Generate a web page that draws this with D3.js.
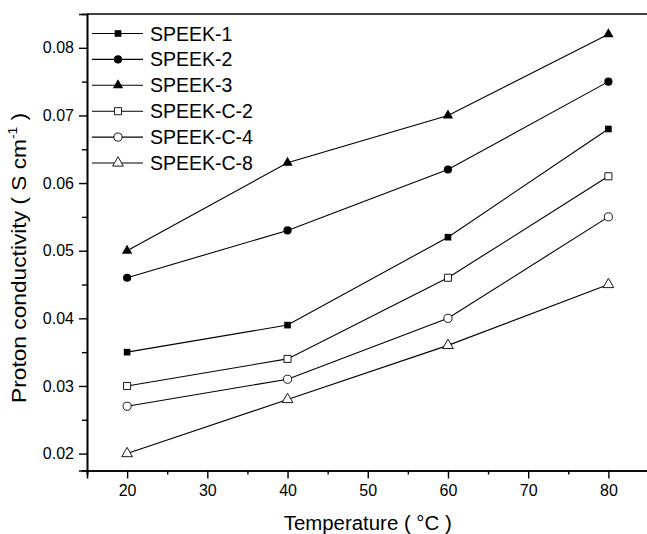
<!DOCTYPE html>
<html>
<head>
<meta charset="utf-8">
<script src="https://cdn.jsdelivr.net/npm/d3@7"></script>
<style>
  html, body { margin: 0; padding: 0; background: #fff; }
  svg { display: block; }
  text { font-family: "Liberation Sans", Arial, sans-serif; fill: #000; }
</style>
</head>
<body>
<svg id="chart" width="647" height="534"></svg>
<script>
// ---- data ----
const temperatures = [20, 40, 60, 80];
const seriesNames = ["SPEEK-1", "SPEEK-2", "SPEEK-3", "SPEEK-C-2", "SPEEK-C-4", "SPEEK-C-8"];
const speek1  = [0.035, 0.039, 0.052, 0.068];
const speek2  = [0.046, 0.053, 0.062, 0.075];
const speek3  = [0.050, 0.063, 0.070, 0.082];
const speekC2 = [0.030, 0.034, 0.046, 0.061];
const speekC4 = [0.027, 0.031, 0.040, 0.055];
const speekC8 = [0.020, 0.028, 0.036, 0.045];
const xTicks = [20, 30, 40, 50, 60, 70, 80];
const yTicks = [0.02, 0.03, 0.04, 0.05, 0.06, 0.07, 0.08];

const seriesValues = [speek1, speek2, speek3, speekC2, speekC4, speekC8];
const markerShapes = ["square", "circle", "triangle", "square", "circle", "triangle"];
const markerFilled = [true, true, true, false, false, false];

// ---- layout ----
const svg = d3.select("#chart");
const plotLeft = 87, plotRight = 648.5, plotTop = 14, plotBottom = 470.5;

const x = d3.scaleLinear().domain([15, 85]).range([plotLeft, plotRight]);
const y = d3.scaleLinear().domain([0.0175, 0.085]).range([plotBottom, plotTop]);

function symbolFor(shape, filled) {
  if (shape === "square") return d3.symbol().type(d3.symbolSquare).size(filled ? 44 : 50);
  if (shape === "circle") return d3.symbol().type(d3.symbolCircle).size(52);
  return d3.symbol().type(d3.symbolTriangle).size(filled ? 46 : 50);
}

// ---- axes ----
const xAxis = d3.axisBottom(x).tickValues(xTicks).tickSize(8).tickPadding(6).tickFormat(d3.format("d"));
const xMinor = d3.axisBottom(x).tickValues(d3.range(15, 86, 5).filter(v => !xTicks.includes(v))).tickSize(4).tickFormat("");
const yAxis = d3.axisLeft(y).tickValues(yTicks).tickSize(8).tickPadding(5).tickFormat(d3.format(".2f"));
const yMinor = d3.axisLeft(y).tickValues([0.025, 0.035, 0.045, 0.055, 0.065, 0.075]).tickSize(5).tickFormat("");

function styleAxis(g) {
  g.select(".domain").attr("stroke", "#000").attr("stroke-width", 1.6);
  g.selectAll(".tick line").attr("stroke", "#000").attr("stroke-width", 1.4);
  g.selectAll(".tick text").style("font-size", "16px").style("font-family", "'Liberation Sans', Arial, sans-serif").attr("fill", "#000");
}

svg.append("g").attr("transform", `translate(0,${plotBottom})`).call(xMinor).call(styleAxis);
svg.append("g").attr("transform", `translate(0,${plotBottom})`).call(xAxis).call(styleAxis);
svg.append("g").attr("transform", `translate(${plotLeft},0)`).call(yMinor).call(styleAxis);
svg.append("g").attr("transform", `translate(${plotLeft},0)`).call(yAxis).call(styleAxis);

// top frame line
svg.append("line")
  .attr("x1", plotLeft).attr("x2", plotRight)
  .attr("y1", plotTop).attr("y2", plotTop)
  .attr("stroke", "#000").attr("stroke-width", 1.6);

// ---- series ----
const line = d3.line().x((d, i) => x(temperatures[i])).y(d => y(d));
seriesValues.forEach((vals, si) => {
  const g = svg.append("g");
  g.append("path").datum(vals)
    .attr("d", line)
    .attr("fill", "none").attr("stroke", "#000").attr("stroke-width", 1.1);
  g.selectAll("path.m").data(vals).enter().append("path")
    .attr("class", "m")
    .attr("transform", (d, i) => `translate(${x(temperatures[i])},${y(d)})`)
    .attr("d", symbolFor(markerShapes[si], markerFilled[si]))
    .attr("fill", markerFilled[si] ? "#000" : "#fff")
    .attr("stroke", "#000").attr("stroke-width", markerFilled[si] ? 0 : 0.9);
});

// ---- legend ----
const legX1 = 92, legX2 = 143, legMarkX = 118, legTextX = 150, legY0 = 33.5, legStep = 25.9;
seriesNames.forEach((name, si) => {
  const yy = legY0 + si * legStep;
  const g = svg.append("g");
  g.append("line").attr("x1", legX1).attr("x2", legX2).attr("y1", yy).attr("y2", yy)
    .attr("stroke", "#000").attr("stroke-width", 1.1);
  g.append("path")
    .attr("transform", `translate(${legMarkX},${yy})`)
    .attr("d", symbolFor(markerShapes[si], markerFilled[si]))
    .attr("fill", markerFilled[si] ? "#000" : "#fff")
    .attr("stroke", "#000").attr("stroke-width", markerFilled[si] ? 0 : 0.9);
  g.append("text").attr("x", legTextX).attr("y", yy + 7)
    .style("font-size", "19.5px").text(name);
});

// ---- axis titles ----
const xt = svg.append("text")
  .attr("x", (plotLeft + plotRight) / 2).attr("y", 530)
  .attr("text-anchor", "middle").style("font-size", "19.5px")
  .attr("textLength", 168).attr("lengthAdjust", "spacingAndGlyphs");
xt.append("tspan").text("Temperature ( ");
xt.append("tspan").text("°");
xt.append("tspan").text("C )");

const yt = svg.append("text")
  .attr("transform", `translate(26,258) rotate(-90)`)
  .attr("text-anchor", "middle").style("font-size", "20px")
  .attr("textLength", 290).attr("lengthAdjust", "spacingAndGlyphs");
yt.append("tspan").text("Proton conductivity ( S cm");
yt.append("tspan").text("-1").attr("dy", -9).style("font-size", "12px");
yt.append("tspan").text(" )").attr("dy", 9);
</script>
</body>
</html>
